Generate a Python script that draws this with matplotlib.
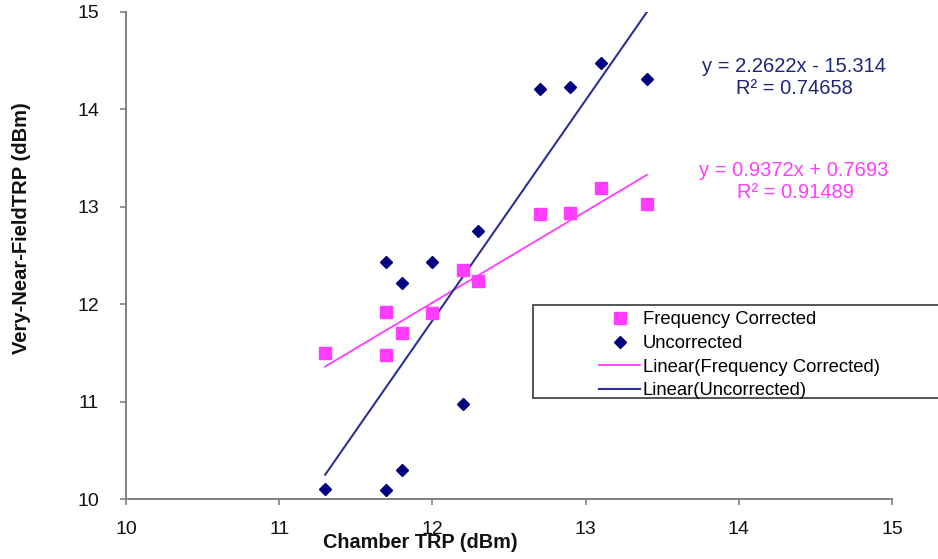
import matplotlib.pyplot as plt
import numpy as np
from matplotlib.patches import Rectangle

plt.rcParams['font.family'] = ['Liberation Sans', 'DejaVu Sans']

# data
x_corr = [11.3, 11.7, 11.7, 11.8, 12.0, 12.2, 12.3, 12.7, 12.9, 13.1, 13.4]
y_corr = [11.50, 11.48, 11.92, 11.70, 11.91, 12.35, 12.24, 12.93, 12.94, 13.19, 13.03]

x_unc = [11.3, 11.7, 11.8, 11.7, 11.8, 12.0, 12.2, 12.3, 12.7, 12.9, 13.1, 13.4]
y_unc = [10.10, 10.09, 10.30, 12.43, 12.22, 12.43, 10.98, 12.75, 14.21, 14.23, 14.48, 14.31]

# trendline coefficients as printed on the chart
slope_corr, icpt_corr, r2_corr = 0.9372, 0.7693, 0.91489
slope_unc, icpt_unc, r2_unc = 2.2622, -15.314, 0.74658

ticks = [10, 11, 12, 13, 14, 15]

pink = '#FF3CFF'
navy = '#000080'
blue_line = '#2E3192'

fig = plt.figure(figsize=(9.38, 5.59), dpi=100)
ax = fig.add_axes([126 / 938, 1 - 499 / 559, (892 - 126) / 938, (499 - 12) / 559])

ax.plot(x_corr, y_corr, 's', color=pink, ms=9, mec=pink, label='Frequency Corrected', zorder=3)
ax.plot(x_unc, y_unc, 'D', color=navy, ms=6.5, mec=navy, label='Uncorrected', zorder=3)

xc = np.array([min(x_corr), max(x_corr)])
ax.plot(xc, slope_corr * xc + icpt_corr, color=pink, lw=1.3, label='Linear(Frequency Corrected)')
xu = np.array([min(x_unc), max(x_unc)])
ax.plot(xu, slope_unc * xu + icpt_unc, color=blue_line, lw=1.5, label='Linear(Uncorrected)')

ax.set_xlim(10, 15)
ax.set_ylim(10, 15)
ax.set_xticks(ticks)
ax.set_yticks(ticks)

for s in ['top', 'right']:
    ax.spines[s].set_visible(False)
for s in ['left', 'bottom']:
    ax.spines[s].set_color('#808080')
    ax.spines[s].set_linewidth(1.4)

ax.tick_params(axis='both', direction='out', length=4.5, width=1.2, color='#808080',
               labelsize=14, labelcolor='#111111')
ax.tick_params(axis='y', pad=15)
ax.tick_params(axis='x', pad=11)

fig.text(22 / 938, 1 - 228 / 559, 'Very-Near-FieldTRP (dBm)', rotation=90,
         ha='center', va='center', fontsize=14.5, fontweight='bold', color='#111111')
fig.text(420 / 938, 1 - 542 / 559, 'Chamber TRP (dBm)',
         ha='center', va='center', fontsize=14.3, fontweight='bold', color='#111111')

# equation labels
eq_size = 14.5
fig.text(794 / 938, 1 - 66 / 559, 'y = %.4fx - %.3f' % (slope_unc, -icpt_unc),
         ha='center', va='center', fontsize=eq_size, color='#1F2577')
fig.text(794 / 938, 1 - 88 / 559, 'R² = %.5f' % r2_unc,
         ha='center', va='center', fontsize=eq_size, color='#1F2577')
fig.text(794 / 938, 1 - 170 / 559, 'y = %.4fx + %.4f' % (slope_corr, icpt_corr),
         ha='center', va='center', fontsize=eq_size, color=pink)
fig.text(795 / 938, 1 - 192 / 559, 'R² = %.5f' % r2_corr,
         ha='center', va='center', fontsize=eq_size, color=pink)

# legend box runs off the right edge
fig.patches.append(Rectangle((533 / 938, 1 - 398 / 559), 420 / 938, 93 / 559,
                             transform=fig.transFigure, fill=True, facecolor='white',
                             edgecolor='#555555', lw=1.4, zorder=4))
leg = fig.legend(loc='upper left', bbox_to_anchor=(592 / 938, 1 - 304 / 559),
                 frameon=False, fontsize=13.3, handlelength=2.2, handletextpad=0.15,
                 labelspacing=0.36, borderaxespad=0)
leg.set_zorder(5)

fig.savefig('out.png', dpi=100)
